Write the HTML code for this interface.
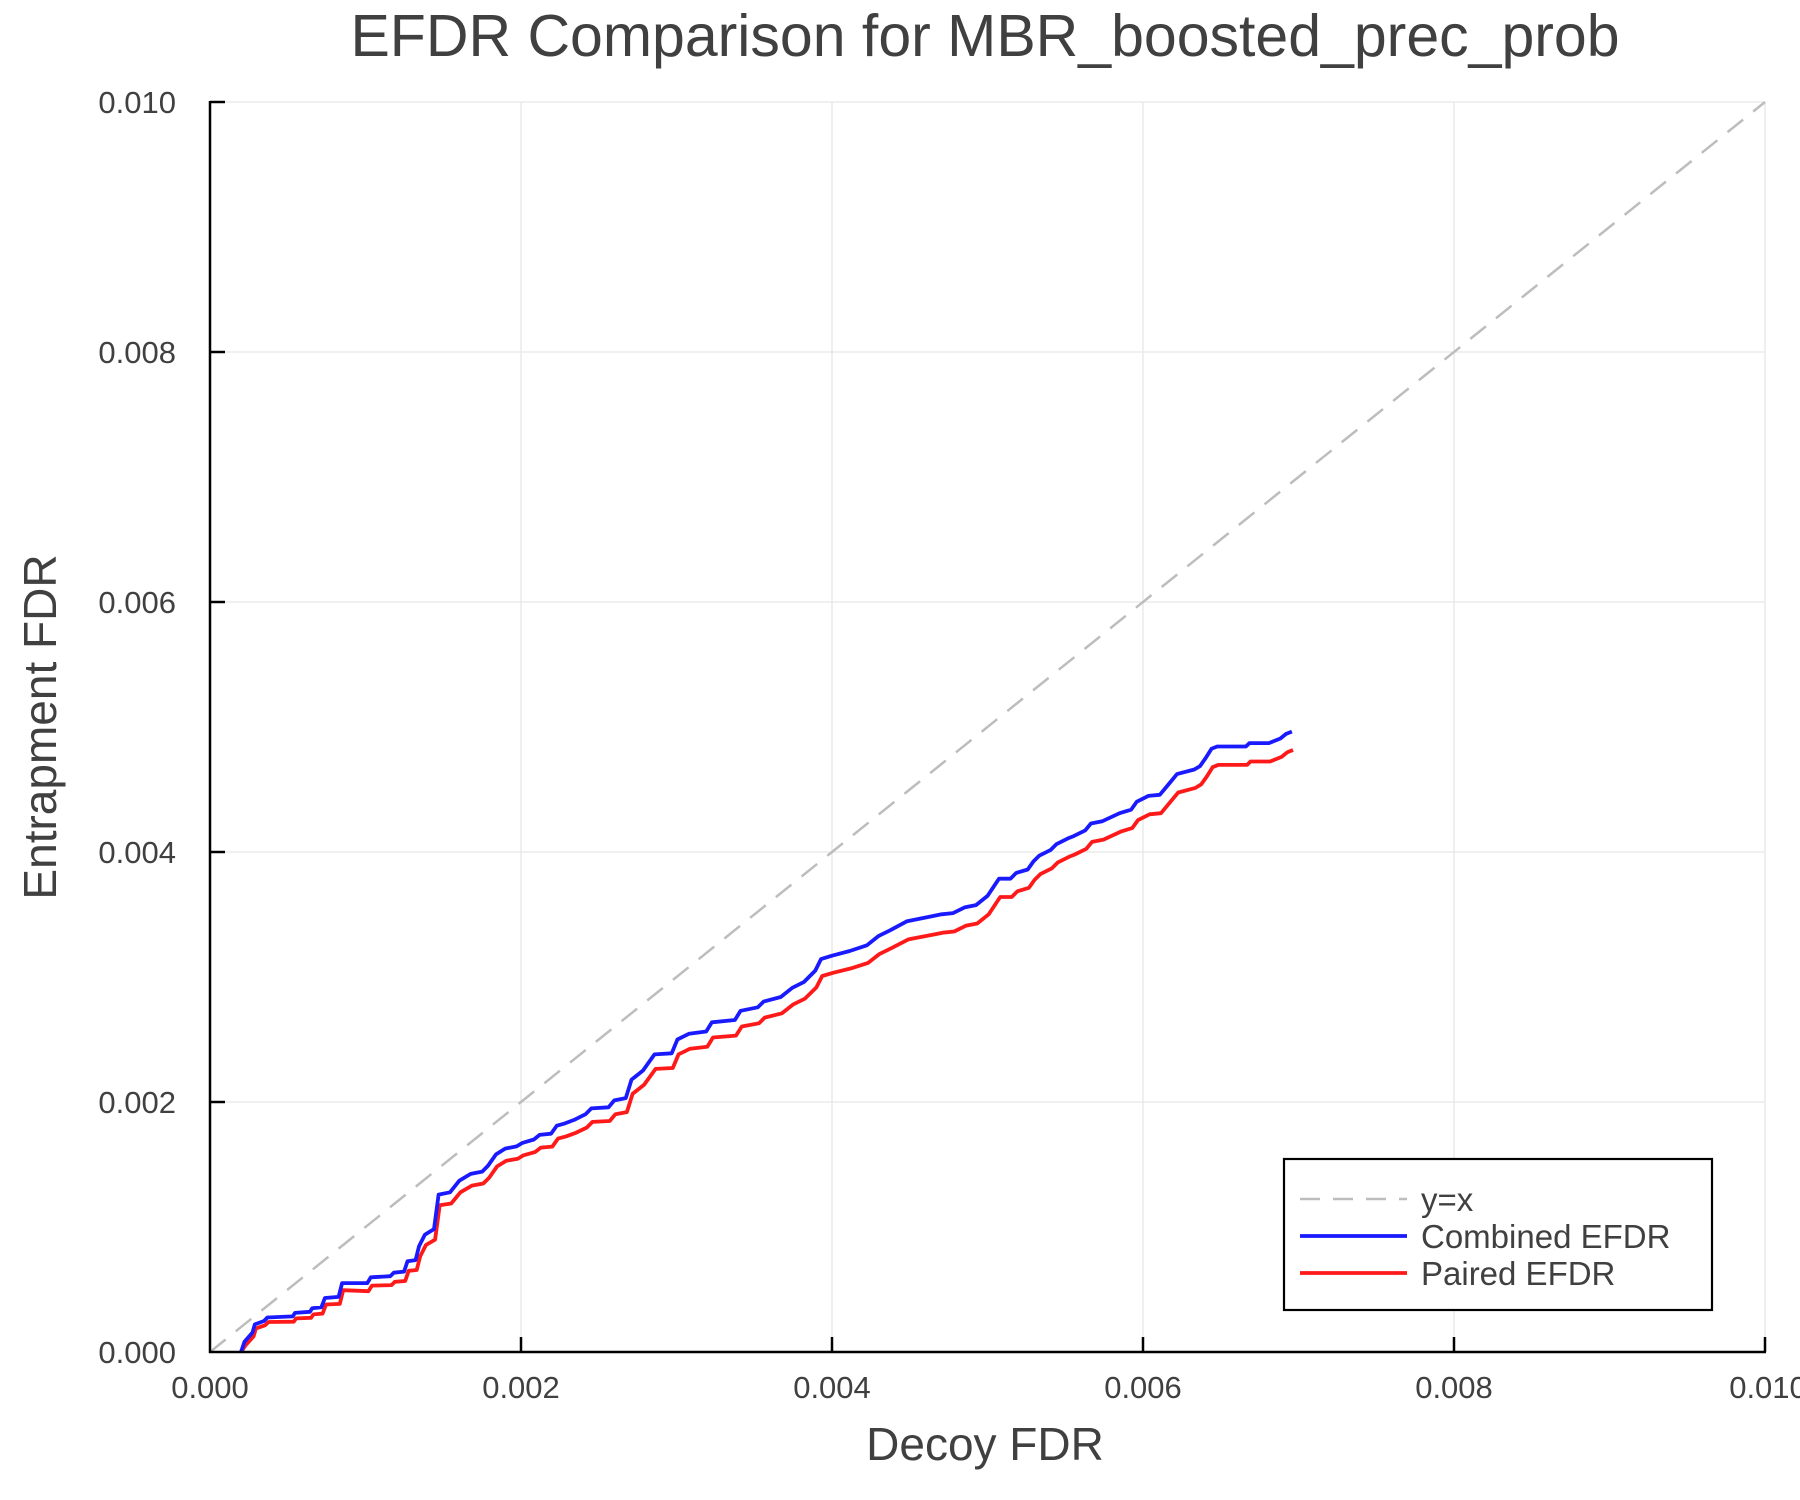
<!DOCTYPE html>
<html><head><meta charset="utf-8"><style>
html,body{margin:0;padding:0;background:#fff}
svg{display:block}
text{font-family:"Liberation Sans",Arial,sans-serif;fill:#404040}
</style></head><body>
<svg id="s" width="1800" height="1500" xmlns="http://www.w3.org/2000/svg">
<rect width="1800" height="1500" fill="#fff"/>
<g stroke="#e6e6e6" stroke-width="1.3">
<line x1="521" y1="102" x2="521" y2="1352"/><line x1="832" y1="102" x2="832" y2="1352"/>
<line x1="1143" y1="102" x2="1143" y2="1352"/><line x1="1454" y1="102" x2="1454" y2="1352"/>
<line x1="1765" y1="102" x2="1765" y2="1352"/>
<line x1="210" y1="102" x2="1765" y2="102"/><line x1="210" y1="352" x2="1765" y2="352"/>
<line x1="210" y1="602" x2="1765" y2="602"/><line x1="210" y1="852" x2="1765" y2="852"/>
<line x1="210" y1="1102" x2="1765" y2="1102"/>
</g>
<line x1="210" y1="1352" x2="1765" y2="102" stroke="#bdbdbd" stroke-width="2.5" stroke-dasharray="20,13"/>
<polyline id="red" fill="none" stroke="#ff1a1a" stroke-width="3.8" stroke-linejoin="round"/>
<polyline id="blue" fill="none" stroke="#1a1aff" stroke-width="3.8" stroke-linejoin="round"/>
<g stroke="#000" stroke-width="2.5">
<line x1="210" y1="101" x2="210" y2="1353"/><line x1="209" y1="1352" x2="1766" y2="1352"/>
<line x1="210" y1="102" x2="225" y2="102"/><line x1="210" y1="352" x2="225" y2="352"/>
<line x1="210" y1="602" x2="225" y2="602"/><line x1="210" y1="852" x2="225" y2="852"/>
<line x1="210" y1="1102" x2="225" y2="1102"/>
<line x1="521" y1="1352" x2="521" y2="1337"/><line x1="832" y1="1352" x2="832" y2="1337"/>
<line x1="1143" y1="1352" x2="1143" y2="1337"/><line x1="1454" y1="1352" x2="1454" y2="1337"/>
<line x1="1765" y1="1352" x2="1765" y2="1337"/>
</g>
<g font-size="31" text-anchor="end">
<text x="176" y="113">0.010</text><text x="176" y="363">0.008</text><text x="176" y="613">0.006</text>
<text x="176" y="863">0.004</text><text x="176" y="1113">0.002</text><text x="176" y="1363">0.000</text>
</g>
<g font-size="31" text-anchor="middle">
<text x="210" y="1398">0.000</text><text x="521" y="1398">0.002</text><text x="832" y="1398">0.004</text>
<text x="1143" y="1398">0.006</text><text x="1454" y="1398">0.008</text><text x="1768" y="1398">0.010</text>
</g>
<text x="985" y="56" font-size="59" text-anchor="middle">EFDR Comparison for MBR_boosted_prec_prob</text>
<text x="985" y="1460" font-size="46" text-anchor="middle">Decoy FDR</text>
<text transform="translate(56,727) rotate(-90)" font-size="46" text-anchor="middle">Entrapment FDR</text>
<rect x="1284" y="1159" width="428" height="151" fill="#fff" stroke="#000" stroke-width="2.2"/>
<line x1="1300" y1="1199" x2="1407" y2="1199" stroke="#bdbdbd" stroke-width="2.5" stroke-dasharray="20,13"/>
<line x1="1300" y1="1236" x2="1407" y2="1236" stroke="#1a1aff" stroke-width="3.8"/>
<line x1="1300" y1="1273" x2="1407" y2="1273" stroke="#ff1a1a" stroke-width="3.8"/>
<g font-size="33"><text x="1421" y="1211">y=x</text><text x="1421" y="1248">Combined EFDR</text><text x="1421" y="1285">Paired EFDR</text></g>
</svg>
<script>
var b=[[210,1177],[213,1168],[220,1160],[222,1153],[230,1150],[233,1147],[255,1146],[257,1143],[270,1142],[272,1139],[280,1138],[283,1130],[295,1129],[298,1117],[320,1117],[323,1112],[340,1111],[343,1108],[352,1107],[355,1098],[362,1097],[365,1085],[370,1075],[378,1070],[382,1040],[392,1038],[400,1028],[410,1022],[420,1020],[425,1015],[432,1005],[440,1000],[450,998],[455,995],[465,992],[470,988],[480,987],[485,980],[492,978],[500,975],[510,970],[515,965],[530,964],[535,958],[545,956],[550,940],[560,932],[565,925],[570,918],[585,917],[590,905],[600,900],[615,898],[620,890],[640,888],[645,880],[660,877],[665,872],[680,868],[690,860],[700,855],[710,845],[715,835],[725,832],[740,828],[755,823],[765,815],[775,810],[790,802],[810,798],[820,796],[830,795],[840,790],[850,788],[860,780],[870,765],[880,765],[885,760],[895,757],[900,750],[905,745],[915,740],[920,735],[930,730],[935,728],[945,723],[950,717],[960,715],[975,708],[985,705],[990,698],[1000,693],[1010,692],[1015,686],[1020,680],[1025,674],[1040,670],[1045,667],[1050,660],[1055,652],[1060,650],[1085,650],[1088,647],[1105,647],[1115,643],[1120,639],[1125,637]];
function off(x){if(x<400)return 3+7*(x-210)/190;if(x<800)return 10+6*(x-400)/400;return 16;}
function tr(x,y){return (210+(x-183)*1.1485).toFixed(1)+","+Math.min(1352,(102+(y-89)*1.1489)).toFixed(1);}
document.getElementById("blue").setAttribute("points",b.map(function(p){return tr(p[0],p[1]);}).join(" "));
document.getElementById("red").setAttribute("points",b.map(function(p,i){return tr(p[0]+(i>0?1:0),p[1]+(i>0?off(p[0]):0));}).join(" "));
</script>
</body></html>
